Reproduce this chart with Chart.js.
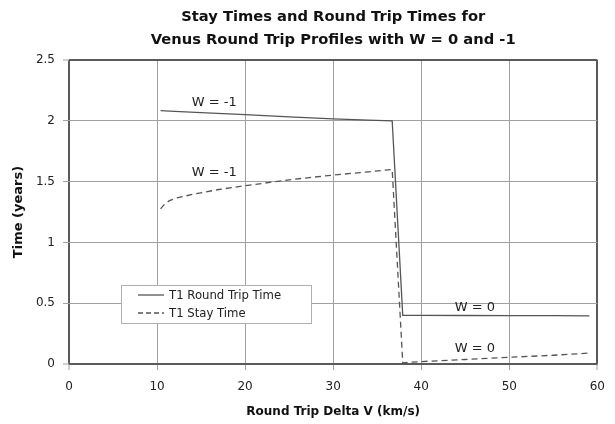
<!DOCTYPE html>
<html>
<head>
<meta charset="utf-8">
<script src="https://cdn.jsdelivr.net/npm/chart.js@4.4.1/dist/chart.umd.min.js"></script>
<style>
  html, body { margin: 0; padding: 0; background: #fff; }
  #wrap { width: 615px; height: 424px; }
</style>
</head>
<body>
<div id="wrap"><canvas id="myChart" width="615" height="424"></canvas></div>
<script>
// round trip time, W = -1 then W = 0
var roundDv = [10.4, 12, 15, 20, 25, 30, 34, 36.7, 37.9, 40, 45, 50, 55, 59.1];
var roundT = [2.083, 2.078, 2.068, 2.05, 2.032, 2.016, 2.006, 2.0, 0.40, 0.40, 0.399, 0.398, 0.397, 0.396];
// stay time
var stayDv = [10.4, 10.8, 11.4, 12.2, 12.9, 14, 15.5, 17, 20, 25, 30, 34, 36.7, 37.9, 40, 45, 50, 55, 59.1];
var stayT = [1.275, 1.31, 1.343, 1.365, 1.376, 1.395, 1.415, 1.435, 1.466, 1.515, 1.554, 1.58, 1.60, 0.01, 0.02, 0.037, 0.055, 0.072, 0.09];

var seriesNames = ["T1 Round Trip Time", "T1 Stay Time"];
var titleLines = ["Stay Times and Round Trip Times for", "Venus Round Trip Profiles with W = 0 and -1"];
var xTicks = [0, 10, 20, 30, 40, 50, 60];
var yTicks = [0, 0.5, 1, 1.5, 2, 2.5];

// text labels placed at data coordinates
var noteText = ["W = -1", "W = -1", "W = 0", "W = 0"];
var noteX = [16.5, 16.5, 46.1, 46.1];
var noteY = [2.15, 1.575, 0.46, 0.125];

var lineColor = "#555";
var gridColor = "#a0a0a0";
var edgeColor = "#5a5a5a";
var fam = "'DejaVu Sans', Verdana, sans-serif";

function pts(xs, ys) {
  return xs.map(function (x, i) { return { x: x, y: ys[i] }; });
}

// title centred over the plot, notes and the legend box inside the plot
var extras = {
  id: "extras",
  afterDatasetsDraw: function (chart) {
    var c = chart.ctx;
    var xs = chart.scales.x, ys = chart.scales.y;
    var area = chart.chartArea;
    c.save();
    c.textAlign = "center";
    c.textBaseline = "middle";

    c.fillStyle = "#111";
    c.font = "bold 14.7px " + fam;
    var cx = (area.left + area.right) / 2;
    c.fillText(titleLines[0], cx, 17);
    c.fillText(titleLines[1], cx, 40);

    c.fillStyle = "#222";
    c.font = "13px " + fam;
    for (var i = 0; i < noteText.length; i++) {
      c.fillText(noteText[i], xs.getPixelForValue(noteX[i]), ys.getPixelForValue(noteY[i]));
    }

    var bx = 121, by = 285, bw = 190, bh = 38;
    c.fillStyle = "#fff";
    c.fillRect(bx, by, bw, bh);
    c.strokeStyle = "#b0b0b0";
    c.lineWidth = 1;
    c.strokeRect(bx + 0.5, by + 0.5, bw, bh);
    c.font = "11.7px " + fam;
    c.textAlign = "left";
    c.fillStyle = "#222";
    for (var k = 0; k < seriesNames.length; k++) {
      var ly = by + 10 + k * 18;
      c.beginPath();
      c.strokeStyle = lineColor;
      c.lineWidth = 1.3;
      c.setLineDash(k === 1 ? [5, 3] : []);
      c.moveTo(bx + 17, ly);
      c.lineTo(bx + 43, ly);
      c.stroke();
      c.fillText(seriesNames[k], bx + 48, ly + 0.5);
    }
    c.restore();
  }
};

function edgeGrid(min, max) {
  return {
    color: function (ctx) {
      var v = ctx.tick && ctx.tick.value;
      return (v === min || v === max) ? edgeColor : gridColor;
    },
    lineWidth: function (ctx) {
      var v = ctx.tick && ctx.tick.value;
      return (v === min || v === max) ? 2 : 1;
    },
    tickColor: gridColor,
    tickLength: 6,
    tickWidth: 1
  };
}

new Chart("myChart", {
  type: "scatter",
  data: {
    datasets: [{
      label: seriesNames[0],
      data: pts(roundDv, roundT),
      showLine: true,
      borderColor: lineColor,
      borderWidth: 1.3,
      pointRadius: 0,
      tension: 0
    }, {
      label: seriesNames[1],
      data: pts(stayDv, stayT),
      showLine: true,
      borderColor: lineColor,
      borderWidth: 1.3,
      borderDash: [6, 4],
      pointRadius: 0,
      tension: 0
    }]
  },
  options: {
    responsive: false,
    animation: false,
    layout: { padding: { left: 0, right: 14, top: 60, bottom: 0 } },
    plugins: {
      legend: { display: false },
      tooltip: { enabled: false },
      title: { display: false }
    },
    scales: {
      x: {
        type: "linear",
        min: 0,
        max: 60,
        afterBuildTicks: function (s) { s.ticks = xTicks.map(function (v) { return { value: v }; }); },
        afterFit: function (s) { s.height = 60; },
        grid: edgeGrid(0, 60),
        border: { display: false },
        ticks: {
          color: "#222",
          padding: 10,
          font: { family: fam, size: 12 }
        },
        title: {
          display: true,
          text: "Round Trip Delta V (km/s)",
          color: "#111",
          font: { family: fam, size: 12, weight: "bold" },
          padding: { top: 4, bottom: 5 }
        }
      },
      y: {
        min: 0,
        max: 2.5,
        afterBuildTicks: function (s) { s.ticks = yTicks.map(function (v) { return { value: v }; }); },
        afterFit: function (s) { s.width = 69; },
        grid: edgeGrid(0, 2.5),
        border: { display: false },
        ticks: {
          color: "#222",
          padding: 8,
          font: { family: fam, size: 12 },
          callback: function (v) { return String(v); }
        },
        title: {
          display: true,
          text: "Time (years)",
          color: "#111",
          font: { family: fam, size: 13, weight: "bold" },
          padding: { top: 11, bottom: 4 }
        }
      }
    }
  },
  plugins: [extras]
});
</script>
</body>
</html>
